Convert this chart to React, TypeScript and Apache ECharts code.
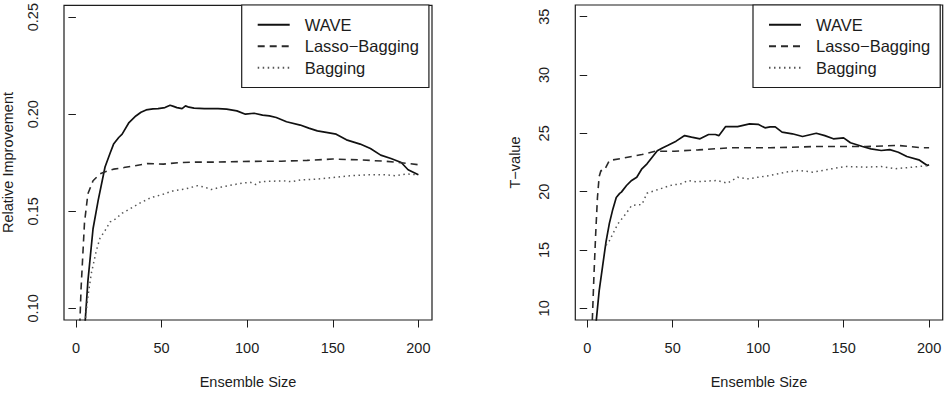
import React, { useEffect, useRef } from "react";
import * as echarts from "echarts";

// ---- Left panel: Relative Improvement ----
const riWaveSizes = [5, 7, 10, 13, 17, 20, 22, 25, 27, 31, 35, 38, 41, 45, 48, 52, 55, 57, 59, 62, 64, 66, 69, 75, 83, 88, 94, 99, 104, 109, 113, 117, 123, 131, 136, 141, 147, 152, 158, 166, 172, 178, 184, 190, 194, 200];
const riWave = [0.088, 0.114, 0.141, 0.1556, 0.1728, 0.18, 0.1846, 0.188, 0.1897, 0.1957, 0.1991, 0.201, 0.2022, 0.2027, 0.2029, 0.2034, 0.2046, 0.204, 0.2034, 0.2029, 0.2043, 0.2036, 0.2031, 0.2029, 0.2029, 0.2026, 0.2017, 0.2, 0.2005, 0.1995, 0.1991, 0.1983, 0.1961, 0.1944, 0.1928, 0.1914, 0.1905, 0.1897, 0.1868, 0.1846, 0.1823, 0.1789, 0.1772, 0.1751, 0.1714, 0.1688];

const riLassoSizes = [2, 3, 5, 7, 10, 14, 16, 22, 28, 34, 42, 51, 61, 70, 81, 90, 102, 120, 135, 150, 165, 180, 190, 200];
const riLasso = [0.085, 0.11, 0.144, 0.159, 0.1657, 0.1692, 0.17, 0.1717, 0.1725, 0.1734, 0.1746, 0.1743, 0.1751, 0.1753, 0.1753, 0.1755, 0.1757, 0.1758, 0.1762, 0.1769, 0.1765, 0.1758, 0.175, 0.174];

const riBagSizes = [5, 7, 9, 12, 14, 17, 20, 23, 27, 32, 38, 44, 50, 57, 64, 71, 75, 79, 85, 91, 97, 102, 105, 108, 115, 121, 126, 131, 141, 150, 160, 170, 180, 187, 193, 200];
const riBag = [0.09, 0.106, 0.118, 0.13, 0.136, 0.14, 0.1445, 0.146, 0.149, 0.1515, 0.1545, 0.1571, 0.1585, 0.1606, 0.1615, 0.1632, 0.1625, 0.1612, 0.1625, 0.1635, 0.1645, 0.1649, 0.1638, 0.1653, 0.1655, 0.1657, 0.1652, 0.1661, 0.1666, 0.1674, 0.1683, 0.1688, 0.1688, 0.1683, 0.1692, 0.1688];

// ---- Right panel: T-value ----
const tvWaveSizes = [5, 7, 9, 11, 13, 15, 17, 19, 20, 23, 26, 29, 32, 35, 38, 41, 44, 47, 52, 57, 61, 66, 71, 75, 77, 81, 88, 95, 100, 104, 107, 110, 114, 120, 126, 134, 139, 144, 150, 154, 161, 166, 172, 177, 182, 187, 194, 197, 199, 200];
const tvWave = [8.5, 11.5, 13.6, 15.7, 17.3, 18.5, 19.5, 19.85, 19.96, 20.53, 20.96, 21.24, 21.96, 22.39, 22.95, 23.5, 23.75, 23.96, 24.33, 24.81, 24.67, 24.53, 24.9, 24.9, 24.8, 25.58, 25.58, 25.81, 25.77, 25.47, 25.55, 25.55, 25.1, 24.96, 24.73, 25.01, 24.8, 24.53, 24.61, 24.19, 23.87, 23.67, 23.53, 23.6, 23.38, 23.01, 22.73, 22.44, 22.24, 22.3];

const tvLassoSizes = [3, 4, 5, 6, 7, 8, 10, 13, 22, 32, 40, 51, 65, 84, 107, 134, 163, 182, 196, 200];
const tvLasso = [9.0, 13.0, 16.5, 19.5, 21.3, 21.8, 21.82, 22.67, 22.9, 23.18, 23.47, 23.47, 23.58, 23.76, 23.76, 23.87, 23.87, 23.96, 23.76, 23.76];

const tvBagSizes = [11, 13, 18, 22, 24, 26, 32, 35, 41, 47, 51, 54, 59, 64, 69, 76, 82, 88, 94, 100, 107, 116, 124, 132, 143, 151, 163, 172, 180, 190, 200];
const tvBag = [15.4, 15.8, 17.25, 18.0, 18.39, 18.82, 18.9, 19.87, 20.16, 20.45, 20.62, 20.62, 20.96, 20.85, 20.9, 20.96, 20.73, 21.24, 21.1, 21.24, 21.39, 21.67, 21.82, 21.67, 21.96, 22.16, 22.1, 22.16, 21.96, 22.1, 22.24];

const xTicks = [0, 50, 100, 150, 200];
const riTicks = [0.1, 0.15, 0.2, 0.25];
const tvTicks = [10, 15, 20, 25, 30, 35];
const seriesNames = ["WAVE", "Lasso\u2212Bagging", "Bagging"];
const xTitle = "Ensemble Size";
const riTitle = "Relative Improvement";
const tvTitle = "T\u2212value";

const FONT = "'Liberation Sans', Arial, Helvetica, sans-serif";
const INK = "#1c1c1c";

const pairs = (xs: number[], ys: number[]) => xs.map((x, i) => [x, ys[i]]);

const lineStyles = [
  { color: "#111", width: 1.7, type: "solid" as any },
  { color: "#2a2a2a", width: 1.6, type: [7, 5] as any },
  { color: "#555", width: 1.5, type: [1.5, 3.5] as any },
];

export default function App() {
  const ref = useRef<HTMLDivElement>(null);
  useEffect(() => {
    if (!ref.current) return;
    const chart = echarts.init(ref.current, undefined, { renderer: "svg" });

    const xAxisBase = (gridIndex: number) => ({
      type: "value",
      gridIndex,
      min: -6.96,
      max: 207.96,
      axisLine: { show: false },
      splitLine: { show: false },
      axisTick: { show: true, length: 7.5, customValues: xTicks, lineStyle: { color: INK, width: 1 } },
      axisLabel: { customValues: xTicks, margin: 20, fontSize: 14.5, color: INK, fontFamily: FONT },
      name: xTitle,
      nameLocation: "middle",
      nameGap: 62,
      nameTextStyle: { fontSize: 14.5, color: INK, fontFamily: FONT, verticalAlign: "middle" },
    });

    const yAxisBase = (gridIndex: number, min: number, max: number, ticks: number[], title: string, fmt: (v: number) => string) => ({
      type: "value",
      gridIndex,
      min,
      max,
      axisLine: { show: false },
      splitLine: { show: false },
      axisTick: { show: true, length: 7.5, customValues: ticks, lineStyle: { color: INK, width: 1 } },
      axisLabel: { customValues: ticks, rotate: 90, margin: 24, fontSize: 14.5, color: INK, fontFamily: FONT, formatter: fmt },
      name: title,
      nameLocation: "middle",
      nameGap: 60.5,
      nameRotate: 90,
      nameTextStyle: { fontSize: 14.5, color: INK, fontFamily: FONT, verticalAlign: "middle" },
    });

    const mk = (name: string, idx: number, data: number[][], style: any) => ({
      name,
      type: "line",
      xAxisIndex: idx,
      yAxisIndex: idx,
      data,
      symbol: "none",
      showSymbol: false,
      clip: true,
      lineStyle: style,
      itemStyle: { color: style.color },
      emphasis: { disabled: true },
      z: 3,
    });

    const legendBase = (left: number) => ({
      left,
      top: 5,
      orient: "vertical",
      data: seriesNames,
      itemWidth: 32,
      itemHeight: 14,
      itemGap: 0,
      padding: [9, 10, 9, 15],
      borderColor: INK,
      borderWidth: 1.2,
      borderRadius: 0,
      backgroundColor: "#fff",
      itemStyle: { opacity: 0 },
      selectedMode: false,
      textStyle: { fontSize: 16.5, color: INK, fontFamily: FONT, lineHeight: 21.5, padding: [0, 0, 0, 10] },
    });

    const leftY = yAxisBase(0, 0.094, 0.256, riTicks, "", (v: number) => v.toFixed(2));

    chart.setOption({
      animation: false,
      backgroundColor: "#fff",
      grid: [
        { left: 64, top: 5, width: 368, height: 315, show: true, borderColor: INK, borderWidth: 1.2, backgroundColor: "transparent" },
        { left: 575.3, top: 5, width: 367.4, height: 315, show: true, borderColor: INK, borderWidth: 1.2, backgroundColor: "transparent" },
      ],
      xAxis: [xAxisBase(0), xAxisBase(1)],
      yAxis: [
        leftY,
        yAxisBase(1, 9, 36, tvTicks, tvTitle, (v: number) => String(v)),
      ],
      legend: [legendBase(241.7), legendBase(753)],
      graphic: [
        {
          type: "text",
          x: 8,
          y: 162.5,
          rotation: Math.PI / 2,
          style: { text: riTitle, fontSize: 14.5, fill: INK, fontFamily: FONT, align: "center", verticalAlign: "middle" },
        },
      ],
      series: [
        mk(seriesNames[0], 0, pairs(riWaveSizes, riWave), lineStyles[0]),
        mk(seriesNames[1], 0, pairs(riLassoSizes, riLasso), lineStyles[1]),
        mk(seriesNames[2], 0, pairs(riBagSizes, riBag), lineStyles[2]),
        mk(seriesNames[0], 1, pairs(tvWaveSizes, tvWave), lineStyles[0]),
        mk(seriesNames[1], 1, pairs(tvLassoSizes, tvLasso), lineStyles[1]),
        mk(seriesNames[2], 1, pairs(tvBagSizes, tvBag), lineStyles[2]),
      ],
    });
    return () => chart.dispose();
  }, []);
  return (
    <div
      ref={ref}
      style={{ position: "fixed", left: 0, top: 0, width: 945, height: 420, background: "#fff" }}
    />
  );
}
